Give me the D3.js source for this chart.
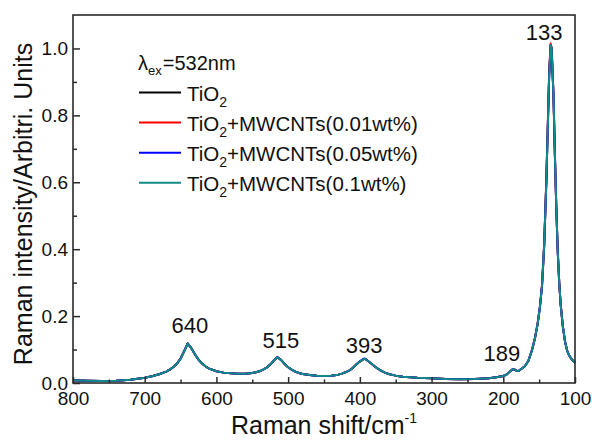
<!DOCTYPE html>
<html>
<head>
<meta charset="utf-8">
<script src="https://cdn.jsdelivr.net/npm/d3@7"></script>
<style>
  body { margin: 0; background: #fff; }
  svg { font-family: "Liberation Sans", Arial, sans-serif; }
</style>
</head>
<body>
<svg id="chart" width="592" height="440"></svg>
<script>
// Raman shift (cm-1), shared by every series
const shift = [800, 780, 760, 740, 720, 700, 690, 680, 670, 665, 660, 655, 650, 645, 640, 635, 630, 625, 620, 615,
  610, 600, 590, 580, 570, 560, 550, 545, 540, 535, 530, 525, 520, 515, 510, 505, 500, 495, 490, 485,
  480, 470, 460, 450, 440, 430, 425, 420, 415, 410, 405, 400, 396, 393, 390, 385, 380, 375, 370, 365, 360,
  350, 340, 320, 300, 280, 260, 240, 220, 210, 200, 195, 190, 187, 184, 181, 178, 175, 170, 165, 160,
  156, 152, 149, 146, 143, 140, 138, 136, 134, 133, 132, 130, 128, 126, 124, 122, 120, 117, 114, 111,
  108, 105, 102, 100];

const tio2 = [0.008, 0.007, 0.006, 0.007, 0.010, 0.016, 0.020, 0.026, 0.034, 0.040, 0.048, 0.058, 0.073, 0.095, 0.118, 0.104, 0.086, 0.070, 0.058, 0.049,
  0.043, 0.035, 0.031, 0.029, 0.028, 0.028, 0.030, 0.032, 0.035, 0.040, 0.046, 0.055, 0.067, 0.077, 0.069, 0.057, 0.047, 0.040, 0.034, 0.030,
  0.027, 0.024, 0.022, 0.021, 0.022, 0.025, 0.028, 0.032, 0.037, 0.045, 0.055, 0.064, 0.070, 0.072, 0.068, 0.060, 0.051, 0.043, 0.036, 0.031, 0.027,
  0.022, 0.019, 0.016, 0.014, 0.012, 0.011, 0.012, 0.014, 0.017, 0.021, 0.026, 0.036, 0.041, 0.040, 0.036, 0.037, 0.042, 0.050, 0.066, 0.098,
  0.132, 0.178, 0.225, 0.290, 0.410, 0.600, 0.760, 0.920, 1.010, 1.005, 0.970, 0.860, 0.680, 0.520, 0.390, 0.300, 0.235, 0.170, 0.125, 0.097,
  0.082, 0.072, 0.065, 0.060];

const cnt001 = [0.008, 0.007, 0.006, 0.007, 0.010, 0.016, 0.020, 0.026, 0.034, 0.040, 0.048, 0.058, 0.074, 0.096, 0.118, 0.104, 0.086, 0.070, 0.058, 0.049,
  0.043, 0.035, 0.031, 0.029, 0.028, 0.028, 0.030, 0.032, 0.035, 0.040, 0.046, 0.055, 0.067, 0.077, 0.069, 0.057, 0.047, 0.040, 0.034, 0.030,
  0.027, 0.024, 0.022, 0.021, 0.022, 0.025, 0.028, 0.032, 0.037, 0.045, 0.055, 0.064, 0.070, 0.072, 0.068, 0.060, 0.051, 0.043, 0.036, 0.031, 0.027,
  0.022, 0.019, 0.016, 0.014, 0.012, 0.011, 0.012, 0.014, 0.017, 0.021, 0.026, 0.036, 0.041, 0.040, 0.036, 0.037, 0.042, 0.050, 0.066, 0.099,
  0.134, 0.180, 0.228, 0.295, 0.415, 0.610, 0.770, 0.935, 1.015, 1.005, 0.965, 0.855, 0.675, 0.515, 0.390, 0.300, 0.235, 0.170, 0.125, 0.097,
  0.082, 0.072, 0.065, 0.060];

const cnt005 = [0.008, 0.007, 0.006, 0.007, 0.010, 0.016, 0.020, 0.026, 0.034, 0.040, 0.048, 0.058, 0.073, 0.095, 0.118, 0.104, 0.086, 0.070, 0.058, 0.049,
  0.043, 0.035, 0.031, 0.029, 0.028, 0.028, 0.030, 0.032, 0.035, 0.040, 0.046, 0.055, 0.067, 0.078, 0.069, 0.057, 0.047, 0.040, 0.034, 0.030,
  0.027, 0.024, 0.022, 0.021, 0.022, 0.025, 0.028, 0.032, 0.037, 0.045, 0.055, 0.065, 0.071, 0.073, 0.068, 0.060, 0.051, 0.043, 0.036, 0.031, 0.027,
  0.022, 0.019, 0.016, 0.014, 0.012, 0.011, 0.012, 0.014, 0.017, 0.021, 0.026, 0.036, 0.041, 0.040, 0.036, 0.037, 0.042, 0.050, 0.066, 0.098,
  0.132, 0.178, 0.225, 0.290, 0.410, 0.600, 0.760, 0.920, 1.008, 1.004, 0.970, 0.860, 0.680, 0.520, 0.390, 0.300, 0.235, 0.170, 0.125, 0.097,
  0.082, 0.072, 0.065, 0.060];

const cnt01 = [0.008, 0.007, 0.006, 0.007, 0.010, 0.016, 0.020, 0.026, 0.034, 0.040, 0.048, 0.058, 0.073, 0.095, 0.118, 0.104, 0.086, 0.070, 0.058, 0.049,
  0.043, 0.035, 0.031, 0.029, 0.028, 0.028, 0.030, 0.032, 0.035, 0.040, 0.046, 0.055, 0.067, 0.077, 0.069, 0.057, 0.047, 0.040, 0.034, 0.030,
  0.027, 0.024, 0.022, 0.021, 0.022, 0.025, 0.028, 0.032, 0.037, 0.045, 0.055, 0.064, 0.070, 0.072, 0.068, 0.060, 0.051, 0.043, 0.036, 0.031, 0.027,
  0.022, 0.019, 0.016, 0.014, 0.012, 0.011, 0.012, 0.014, 0.017, 0.021, 0.026, 0.036, 0.041, 0.040, 0.036, 0.037, 0.042, 0.050, 0.066, 0.098,
  0.132, 0.178, 0.225, 0.290, 0.410, 0.600, 0.760, 0.920, 1.010, 1.005, 0.970, 0.860, 0.680, 0.520, 0.390, 0.300, 0.235, 0.170, 0.125, 0.097,
  0.082, 0.072, 0.065, 0.060];

const seriesValues = [tio2, cnt001, cnt005, cnt01];
const seriesLabels = ["(0.01wt%)", "(0.05wt%)", "(0.1wt%)"];
const seriesColors = ["#000000", "#ff0000", "#0000ff", "#138a8a"];

const xTicks = [800, 700, 600, 500, 400, 300, 200, 100];
const xMinor = [750, 650, 550, 450, 350, 250, 150];
const yTicks = [0, 0.2, 0.4, 0.6, 0.8, 1.0];
const yMinor = [0.1, 0.3, 0.5, 0.7, 0.9];

// peak annotations
const peakText = ["640", "515", "393", "189", "133"];
const peakX = [637, 510, 394, 202, 143];
const peakY = [0.149, 0.104, 0.089, 0.066, 1.024];

const svg = d3.select("#chart");
const plotLeft = 73, plotRight = 575, plotTop = 15, plotBottom = 383;

const x = d3.scaleLinear().domain([800, 100]).range([plotLeft, plotRight]);
const y = d3.scaleLinear().domain([0, 1.1]).range([plotBottom, plotTop]);

const axisColor = "#2a2a2a";

// curves
const line = d3.line()
  .x(d => x(d[0]))
  .y(d => y(d[1]));

seriesValues.forEach((vals, i) => {
  svg.append("path")
    .attr("d", line(shift.map((s, k) => [s, vals[k]])))
    .attr("fill", "none")
    .attr("stroke", seriesColors[i])
    .attr("stroke-width", 2)
    .attr("stroke-linejoin", "round");
});

// frame
svg.append("rect")
  .attr("x", plotLeft).attr("y", plotTop)
  .attr("width", plotRight - plotLeft).attr("height", plotBottom - plotTop)
  .attr("fill", "none")
  .attr("stroke", axisColor)
  .attr("stroke-width", 1.6);

// axes, ticks inward
svg.append("g")
  .attr("transform", `translate(0,${plotBottom})`)
  .call(d3.axisBottom(x).tickValues(xTicks).tickFormat(d3.format("d"))
    .tickSizeInner(-6).tickSizeOuter(0).tickPadding(9));
svg.append("g")
  .attr("transform", `translate(0,${plotBottom})`)
  .call(d3.axisBottom(x).tickValues(xMinor).tickFormat("").tickSizeInner(-3.5).tickSizeOuter(0));

svg.append("g")
  .attr("transform", `translate(${plotLeft},0)`)
  .call(d3.axisLeft(y).tickValues(yTicks).tickFormat(d3.format(".1f"))
    .tickSizeInner(-7).tickSizeOuter(0).tickPadding(5));
svg.append("g")
  .attr("transform", `translate(${plotLeft},0)`)
  .call(d3.axisLeft(y).tickValues(yMinor).tickFormat("").tickSizeInner(-4).tickSizeOuter(0));

svg.selectAll(".domain").remove();
svg.selectAll(".tick line").attr("stroke", axisColor).attr("stroke-width", 1.5);
svg.selectAll(".tick text")
  .attr("fill", "#111")
  .style("font-family", "'Liberation Sans', Arial, sans-serif")
  .style("font-size", "19px");

// axis titles
const xTitle = svg.append("text")
  .attr("x", (plotLeft + plotRight) / 2)
  .attr("y", 434)
  .attr("text-anchor", "middle")
  .attr("fill", "#111")
  .style("font-size", "25px");
xTitle.append("tspan").text("Raman shift/cm");
xTitle.append("tspan").attr("dy", -11).style("font-size", "14px").text("-1");

svg.append("text")
  .attr("transform", `translate(32,${(plotTop + plotBottom) / 2 + 5}) rotate(-90)`)
  .attr("text-anchor", "middle")
  .attr("fill", "#111")
  .style("font-size", "25px")
  .text("Raman intensity/Arbitri. Units");

// peak labels
svg.selectAll(".peak")
  .data(peakText)
  .enter()
  .append("text")
  .attr("class", "peak")
  .attr("x", (d, i) => x(peakX[i]))
  .attr("y", (d, i) => y(peakY[i]))
  .attr("text-anchor", "middle")
  .attr("fill", "#111")
  .style("font-size", "22px")
  .text(d => d);

// legend
const lg = svg.append("g").attr("transform", "translate(138,0)");
const lam = lg.append("text").attr("x", 0).attr("y", 70).attr("fill", "#111").style("font-size", "20px");
lam.append("tspan").text("λ");
lam.append("tspan").attr("dy", 5).style("font-size", "13px").text("ex");
lam.append("tspan").attr("dy", -5).attr("dx", 1).text("=532nm");

seriesColors.forEach((c, i) => {
  const yy = 92.5 + i * 30.1;
  lg.append("line")
    .attr("x1", 1).attr("x2", 43)
    .attr("y1", yy).attr("y2", yy)
    .attr("stroke", c).attr("stroke-width", 2);
  const t = lg.append("text")
    .attr("x", 49).attr("y", yy + 8)
    .attr("fill", "#111")
    .style("font-size", "20.5px");
  t.append("tspan").text("TiO");
  t.append("tspan").attr("dy", 6).style("font-size", "14px").text("2");
  if (i > 0) {
    t.append("tspan").attr("dy", -6).text("+MWCNTs" + seriesLabels[i - 1]);
  }
});
</script>
</body>
</html>
